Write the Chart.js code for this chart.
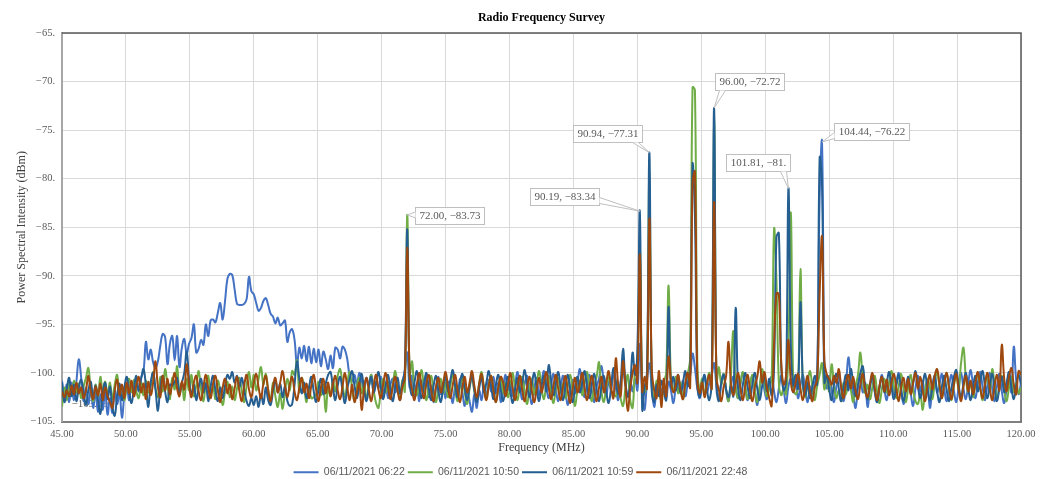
<!DOCTYPE html>
<html><head><meta charset="utf-8">
<script src="https://cdn.jsdelivr.net/npm/chart.js@4.4.0/dist/chart.umd.min.js"></script>
<style>html,body{margin:0;padding:0;background:#fff;}</style>
</head><body>
<canvas id="c" width="1051" height="479"></canvas>
<script>
const chartTitle = 'Radio Frequency Survey';
const xAxisTitle = 'Frequency (MHz)';
const yAxisTitle = 'Power Spectral Intensity (dBm)';
const seriesNames = ['06/11/2021 06:22', '06/11/2021 10:50', '06/11/2021 10:59', '06/11/2021 22:48'];
const seriesColors = ['#4472C4', '#70AD47', '#255E91', '#9E480E'];
// sampling grid of the survey (MHz)
const freqStartMHz = 45, freqStepMHz = 0.1875, freqCount = 401;
const frequencies = Array.from({length: freqCount}, (_, i) => freqStartMHz + i * freqStepMHz);
const xTickValues = [45,50,55,60,65,70,75,80,85,90,95,100,105,110,115,120];
const yTickValues = [-105,-100,-95,-90,-85,-80,-75,-70,-65];

const power0622 = [
-100.8,-102.5,-101.2,-103.0,-101.0,-102.8,-100.9,-98.6,-100.5,-102.9,-101.5,-103.2,-101.8,-103.6,-102.0,-104.0,
-102.2,-103.8,-101.9,-104.3,-102.6,-104.1,-101.8,-103.2,-102.0,-104.6,-102.4,-101.3,-102.8,-101.0,-102.1,-100.8,
-101.9,-100.5,-99.8,-96.8,-98.6,-97.6,-98.9,-99.5,-98.8,-97.2,-96.0,-96.3,-99.1,-97.0,-96.2,-98.7,
-96.2,-99.4,-97.4,-96.5,-98.0,-97.0,-96.4,-95.0,-97.9,-97.5,-96.6,-97.1,-95.0,-96.2,-94.6,-94.5,
-94.8,-93.8,-92.8,-94.5,-92.6,-90.3,-89.8,-89.9,-91.4,-92.9,-93.0,-93.0,-92.9,-92.4,-90.1,-91.6,
-91.9,-92.8,-93.6,-93.3,-92.6,-92.3,-93.0,-93.9,-94.2,-94.9,-94.3,-95.1,-94.9,-94.6,-96.8,-95.8,
-95.5,-96.6,-99.2,-97.4,-98.5,-97.2,-98.8,-97.3,-99.0,-97.5,-98.9,-97.6,-99.3,-97.8,-98.6,-99.6,
-98.2,-99.5,-97.4,-97.6,-98.5,-97.3,-97.6,-98.6,-100.4,-100.9,-100.2,-101.2,-100.0,-100.8,-101.9,-100.5,
-101.3,-100.2,-102.0,-100.9,-101.6,-100.4,-102.3,-101.0,-102.6,-101.2,-100.6,-102.0,-101.4,-102.8,-101.0,-99.8,
-97.9,-101.5,-100.3,-102.4,-101.1,-102.9,-100.8,-101.9,-100.2,-102.5,-101.3,-103.0,-101.6,-100.4,-102.2,-101.0,
-102.6,-100.9,-101.8,-103.1,-101.4,-102.7,-100.6,-102.0,-103.4,-101.7,-102.9,-104.0,-102.2,-103.6,-101.8,-102.8,
-101.3,-102.5,-100.7,-101.9,-100.4,-102.1,-101.0,-103.0,-101.5,-100.2,-101.8,-100.9,-102.4,-101.2,-99.9,-101.5,
-102.7,-101.1,-100.3,-101.9,-103.2,-101.6,-100.5,-102.3,-101.0,-99.8,-101.4,-102.6,-101.2,-100.1,-101.7,-102.9,
-101.5,-100.3,-101.9,-103.3,-101.8,-100.7,-102.1,-101.0,-99.6,-101.3,-102.5,-101.1,-100.2,-101.8,-103.0,-101.4,
-100.6,-99.3,-101.0,-102.4,-100.9,-101.7,-100.0,-101.5,-102.8,-101.0,-99.8,-101.3,-102.5,-100.8,-101.9,-100.6,
-101.8,-97.0,-101.5,-103.8,-100.9,-99.0,-101.6,-103.5,-101.7,-100.5,-102.2,-101.0,-102.8,-100.9,-101.8,-103.1,
-101.4,-100.2,-101.9,-100.8,-102.4,-101.1,-100.3,-98.0,-99.5,-101.6,-102.6,-101.2,-100.5,-102.0,-101.0,-100.2,
-99.0,-101.4,-102.5,-101.0,-100.1,-101.8,-102.9,-101.3,-100.4,-101.5,-102.6,-101.1,-100.0,-101.6,-102.8,-101.2,
-100.3,-101.9,-103.3,-101.5,-100.2,-101.8,-102.7,-101.0,-100.4,-101.9,-103.0,-101.6,-100.3,-101.7,-103.1,-101.4,
-100.6,-102.0,-101.0,-102.6,-101.3,-100.2,-101.7,-103.0,-101.4,-102.5,-101.0,-100.1,-82.0,-76.22,-99.8,-101.6,
-100.3,-101.8,-103.0,-101.4,-100.1,-101.7,-102.9,-101.2,-98.4,-100.6,-102.2,-103.6,-101.5,-100.4,-102.0,-101.0,
-103.5,-101.6,-100.3,-101.9,-103.0,-101.4,-100.2,-101.7,-102.8,-101.0,-100.5,-102.2,-101.1,-100.0,-101.6,-103.2,
-101.8,-100.6,-102.1,-103.4,-101.5,-100.3,-101.9,-100.8,-102.6,-101.1,-103.6,-101.7,-100.4,-102.0,-101.2,-100.1,
-101.7,-102.9,-101.3,-100.2,-101.8,-103.0,-101.4,-100.0,-101.6,-102.7,-101.1,-99.7,-101.3,-102.6,-101.0,-99.9,
-101.5,-102.8,-101.2,-100.0,-101.6,-102.9,-101.3,-100.1,-101.9,-103.1,-101.6,-100.4,-102.0,-97.3,-100.8,-102.2,
-101.0];

const power1050 = [
-103.5,-101.5,-102.8,-101.0,-102.2,-100.8,-102.0,-101.1,-102.6,-101.4,-100.5,-99.5,-101.8,-102.9,-101.2,-102.5,
-100.4,-101.9,-100.9,-102.3,-101.0,-102.7,-101.2,-100.2,-102.1,-101.3,-102.8,-101.5,-100.6,-102.0,-100.7,-101.9,
-102.6,-101.0,-102.3,-100.8,-102.0,-101.4,-99.9,-101.6,-102.5,-100.4,-101.9,-99.6,-101.3,-102.7,-100.5,-101.7,
-99.3,-102.0,-101.1,-102.8,-100.6,-101.8,-100.2,-102.4,-101.3,-99.8,-101.7,-102.9,-101.1,-100.3,-102.2,-101.4,
-102.7,-100.8,-101.9,-103.3,-102.0,-100.9,-102.5,-101.4,-102.8,-101.6,-100.5,-101.9,-103.0,-101.3,-99.9,-101.5,
-100.2,-101.8,-100.6,-99.4,-101.2,-100.1,-101.7,-102.9,-101.0,-102.4,-103.5,-102.1,-103.7,-101.9,-100.6,-101.8,
-99.8,-100.2,-98.7,-102.0,-100.5,-101.6,-103.0,-101.4,-102.6,-102.5,-102.2,-100.9,-102.3,-101.2,-104.0,-101.5,
-102.4,-100.8,-101.9,-100.3,-99.6,-101.2,-102.5,-101.0,-99.9,-101.6,-102.9,-101.3,-100.5,-102.1,-101.0,-102.7,
-101.4,-100.2,-101.8,-103.1,-103.6,-101.7,-100.6,-102.0,-100.9,-102.4,-101.1,-99.8,-101.5,-102.6,-100.7,-101.9,
-83.73,-100.4,-98.8,-101.8,-102.3,-101.0,-99.7,-101.6,-102.8,-101.2,-100.3,-101.9,-103.0,-101.5,-100.6,-102.1,
-101.0,-102.5,-101.3,-100.1,-101.7,-102.9,-101.4,-100.5,-102.0,-103.2,-101.6,-100.4,-101.9,-102.8,-101.1,-99.9,
-101.5,-102.7,-101.2,-100.3,-101.8,-103.0,-101.6,-100.5,-102.1,-101.0,-102.5,-101.3,-100.0,-101.7,-102.8,-101.2,
-100.4,-102.0,-103.2,-101.5,-100.6,-102.2,-101.0,-99.8,-101.5,-102.7,-101.2,-100.3,-101.9,-103.1,-101.6,-100.5,
-102.0,-101.1,-102.6,-101.3,-100.2,-101.8,-103.4,-101.7,-100.8,-102.3,-101.0,-99.9,-101.6,-102.9,-101.3,-100.4,
-98.9,-101.9,-103.0,-101.5,-100.3,-101.8,-102.2,-102.4,-101.1,-102.6,-103.4,-101.6,-100.2,-102.8,-103.6,-99.8,
-99.0,-87.0,-100.8,-102.0,-100.5,-79.5,-101.2,-102.5,-100.8,-101.9,-102.8,-101.0,-100.0,-91.0,-100.7,-101.8,
-100.4,-102.1,-101.0,-102.7,-101.3,-100.1,-98.5,-70.6,-70.9,-99.0,-101.8,-100.6,-102.2,-101.1,-100.0,-101.6,
-74.0,-101.0,-99.4,-101.2,-100.1,-101.7,-102.9,-100.2,-95.7,-101.5,-102.6,-101.0,-99.9,-101.4,-102.7,-101.3,
-100.2,-101.8,-103.0,-101.4,-99.6,-101.1,-102.4,-101.6,-100.5,-85.2,-90.5,-101.0,-102.3,-101.6,-102.2,-97.5,
-83.5,-101.0,-102.2,-101.4,-89.3,-101.2,-102.5,-101.0,-99.8,-101.5,-102.8,-101.3,-100.2,-99.0,-101.7,-100.5,
-101.9,-99.1,-101.3,-102.6,-101.8,-102.9,-101.0,-102.2,-100.8,-101.7,-103.0,-101.4,-100.2,-97.9,-100.6,-102.1,
-101.2,-102.7,-101.5,-100.3,-101.9,-103.1,-101.6,-100.6,-102.0,-101.0,-99.8,-101.4,-102.6,-101.3,-100.1,-101.7,
-103.0,-101.4,-100.2,-101.8,-102.9,-103.2,-102.1,-103.8,-101.9,-100.6,-101.5,-102.7,-101.1,-99.9,-101.4,-102.6,
-101.0,-100.0,-101.6,-102.8,-101.3,-100.2,-101.7,-99.0,-97.4,-100.5,-102.0,-101.0,-102.5,-101.2,-100.1,-101.6,
-102.8,-101.3,-100.2,-101.9,-99.6,-101.2,-102.6,-101.4,-100.3,-101.8,-102.9,-101.5,-100.4,-102.0,-101.0,-102.1,
-101.5];

const power1059 = [
-101.0,-103.0,-101.6,-100.5,-102.4,-101.2,-102.9,-101.5,-100.7,-102.0,-103.3,-101.8,-100.9,-102.6,-101.3,-102.8,
-104.2,-102.0,-101.0,-102.7,-101.4,-103.5,-104.4,-102.3,-101.1,-102.8,-101.5,-100.4,-102.0,-103.1,-101.6,-100.3,
-101.8,-100.6,-99.6,-101.3,-103.5,-101.0,-100.0,-101.7,-103.9,-101.5,-100.3,-101.9,-103.0,-101.2,-101.3,-100.9,
-100.5,-102.1,-101.0,-100.0,-97.8,-100.6,-102.3,-101.2,-102.8,-101.5,-100.6,-102.0,-101.1,-102.9,-101.4,-100.3,
-101.8,-102.9,-101.5,-102.6,-101.3,-100.2,-100.6,-99.9,-101.0,-100.3,-101.4,-100.5,-101.8,-102.9,-103.4,-102.6,
-103.3,-102.4,-103.5,-102.2,-103.2,-101.5,-102.8,-103.3,-101.9,-100.7,-102.0,-101.1,-102.5,-101.4,-102.9,-103.4,
-103.2,-101.2,-98.8,-100.6,-102.1,-101.0,-102.6,-101.5,-100.4,-101.9,-103.0,-101.7,-100.6,-102.2,-101.1,-100.2,
-99.9,-101.5,-102.8,-101.3,-100.4,-101.8,-103.1,-101.6,-100.6,-99.8,-101.3,-102.6,-101.2,-100.1,-101.7,-102.9,
-101.4,-100.4,-102.0,-101.0,-99.9,-101.5,-102.7,-101.3,-100.2,-101.8,-102.9,-101.4,-100.5,-102.1,-101.0,-99.6,
-85.2,-100.9,-102.3,-101.0,-99.8,-101.4,-102.6,-101.1,-100.0,-101.6,-102.8,-101.3,-100.3,-101.9,-103.0,-101.5,
-100.4,-101.9,-100.7,-99.7,-101.3,-102.5,-101.0,-100.1,-101.6,-102.8,-101.4,-100.3,-101.8,-103.0,-101.6,-100.5,
-102.0,-101.0,-99.8,-101.4,-102.7,-101.2,-100.2,-101.7,-102.9,-101.5,-100.4,-101.9,-103.1,-101.6,-100.5,-102.0,
-101.0,-99.7,-101.3,-102.5,-101.1,-100.0,-101.6,-102.9,-101.4,-100.3,-101.9,-99.2,-100.8,-102.3,-101.0,-99.9,
-101.5,-102.8,-101.3,-100.2,-101.8,-103.0,-101.5,-100.4,-102.0,-101.0,-99.8,-101.4,-102.6,-101.2,-100.1,-101.7,
-102.9,-101.4,-100.3,-101.9,-103.1,-101.6,-99.5,-100.8,-102.2,-101.0,-97.5,-100.9,-102.4,-101.2,-97.9,-100.2,
-97.5,-83.34,-103.8,-101.5,-99.9,-77.31,-101.9,-103.0,-101.2,-102.4,-100.8,-101.9,-102.8,-93.2,-101.5,-100.4,
-101.8,-100.6,-102.1,-101.0,-99.8,-101.4,-100.0,-78.6,-84.0,-101.2,-102.5,-101.1,-100.2,-101.8,-102.8,-100.6,
-72.72,-101.6,-102.9,-101.0,-100.2,-101.7,-102.5,-101.3,-102.4,-93.3,-101.6,-102.8,-101.2,-100.0,-101.5,-102.6,
-101.1,-100.0,-101.6,-102.8,-101.4,-100.3,-101.9,-100.6,-102.3,-99.5,-86.0,-85.6,-99.4,-101.8,-100.9,-81.0,
-97.2,-101.3,-100.2,-101.6,-92.7,-100.9,-102.3,-101.0,-102.6,-101.4,-100.3,-101.2,-77.9,-80.5,-101.0,-100.2,
-101.7,-102.8,-101.1,-100.1,-101.6,-102.9,-101.4,-100.2,-101.8,-99.6,-101.0,-102.4,-101.2,-100.0,-99.3,-101.5,
-102.7,-101.3,-100.3,-101.9,-103.0,-101.5,-100.4,-102.0,-101.0,-99.9,-101.5,-102.7,-101.3,-100.2,-101.8,-102.9,
-101.6,-100.4,-102.0,-101.1,-99.8,-101.4,-102.6,-101.2,-100.1,-101.7,-102.8,-101.5,-100.3,-101.9,-103.0,-101.4,
-100.3,-101.8,-102.9,-101.5,-100.4,-99.7,-101.3,-102.5,-101.1,-100.0,-101.6,-102.8,-101.4,-100.3,-101.9,-100.8,
-99.8,-101.4,-102.6,-101.2,-100.1,-101.7,-102.9,-101.5,-100.4,-102.0,-101.0,-99.9,-101.5,-102.7,-101.3,-100.2,
-101.2];

const power2248 = [
-101.9,-102.5,-101.8,-102.4,-101.3,-102.2,-101.0,-102.1,-101.5,-102.6,-101.8,-100.3,-101.9,-102.7,-101.4,-102.3,
-101.1,-102.8,-101.5,-102.4,-103.0,-103.6,-101.8,-100.7,-102.3,-101.2,-102.6,-101.0,-102.1,-100.8,-102.4,-101.3,
-100.4,-102.0,-101.1,-102.7,-100.9,-102.3,-101.0,-98.8,-101.4,-102.5,-100.3,-101.8,-100.6,-102.2,-101.1,-100.0,
-101.6,-102.4,-100.9,-101.7,-99.1,-101.2,-102.5,-101.0,-100.3,-101.9,-102.8,-101.4,-100.2,-101.6,-102.6,-101.1,
-100.3,-101.8,-103.0,-101.5,-100.6,-102.1,-101.2,-102.7,-101.6,-100.4,-101.9,-102.9,-101.3,-100.2,-101.7,-102.5,
-101.0,-100.1,-101.5,-102.6,-101.1,-100.3,-101.8,-102.9,-101.4,-100.5,-102.0,-101.0,-99.8,-101.3,-102.5,-101.2,
-100.4,-101.9,-102.8,-101.5,-100.5,-102.0,-101.1,-102.6,-101.3,-100.2,-101.7,-102.9,-101.5,-100.6,-102.1,-101.0,
-102.4,-101.2,-100.3,-101.8,-102.7,-101.4,-100.0,-101.5,-102.8,-101.2,-103.0,-102.0,-101.0,-103.8,-101.6,-100.5,
-101.8,-102.9,-101.3,-100.2,-101.7,-102.6,-101.1,-100.0,-101.5,-102.7,-101.3,-100.4,-101.9,-102.8,-101.4,-100.6,
-87.1,-100.2,-101.7,-102.8,-101.2,-100.0,-101.5,-102.6,-101.1,-100.2,-101.8,-102.9,-101.4,-100.5,-102.0,-101.0,
-99.9,-101.4,-102.6,-101.2,-100.2,-101.8,-103.0,-101.5,-100.4,-102.0,-101.0,-99.8,-101.3,-102.5,-101.1,-100.1,
-101.6,-102.8,-101.3,-100.3,-101.9,-103.0,-101.5,-100.4,-101.0,-102.4,-101.2,-100.0,-101.6,-102.8,-101.4,-100.3,
-101.8,-102.9,-101.4,-100.4,-101.9,-103.0,-101.6,-100.5,-102.0,-101.0,-99.9,-101.5,-102.7,-101.3,-100.2,-101.7,
-102.8,-101.4,-100.3,-101.9,-103.1,-101.6,-100.5,-102.0,-101.1,-100.0,-101.6,-102.8,-101.4,-100.3,-101.8,-102.9,
-101.5,-100.4,-102.0,-101.0,-99.8,-101.4,-102.6,-98.5,-101.2,-102.4,-98.8,-101.3,-103.9,-101.6,-100.0,-99.2,
-101.0,-87.8,-101.9,-100.4,-101.6,-84.1,-99.6,-101.8,-102.6,-99.8,-103.5,-100.6,-102.4,-98.3,-100.8,-102.0,
-101.3,-100.2,-101.8,-102.7,-101.0,-100.0,-101.5,-80.5,-79.3,-100.6,-102.1,-101.0,-102.5,-101.2,-100.2,-101.6,
-82.4,-100.5,-101.8,-102.9,-101.4,-100.3,-96.8,-101.0,-102.3,-101.1,-100.0,-101.6,-102.8,-101.3,-100.2,-101.8,
-102.9,-101.4,-100.4,-98.8,-101.0,-99.9,-101.5,-102.6,-103.4,-97.0,-91.8,-91.9,-99.0,-101.2,-100.3,-96.6,
-100.9,-102.0,-101.0,-100.1,-101.6,-102.8,-101.4,-100.3,-101.9,-102.9,-101.5,-100.6,-92.0,-86.0,-98.8,-100.2,
-100.6,-101.2,-100.3,-101.0,-99.6,-101.4,-102.6,-101.0,-100.2,-101.6,-100.4,-101.8,-102.7,-101.2,-100.1,-101.7,
-102.5,-101.1,-100.0,-101.5,-102.8,-101.3,-100.4,-101.9,-100.7,-102.3,-101.0,-100.1,-101.6,-102.9,-101.4,-100.5,
-101.9,-100.6,-102.2,-101.0,-100.0,-101.6,-100.4,-101.8,-102.9,-101.3,-100.2,-101.7,-100.3,-99.6,-101.2,-102.6,
-101.1,-100.0,-101.5,-102.7,-101.2,-100.1,-101.7,-102.9,-101.4,-100.3,-101.9,-100.8,-102.2,-101.0,-99.9,-101.5,
-102.6,-101.1,-100.0,-101.6,-102.8,-101.3,-100.2,-101.8,-97.1,-100.6,-101.9,-100.4,-99.5,-101.2,-102.2,-99.8,
-100.2];

// data labels shown on the chart (value points)
const calloutPoints = [
  {x: 72.00, y: -83.73, text: '72.00, \u221283.73'},
  {x: 90.19, y: -83.34, text: '90.19, \u221283.34'},
  {x: 90.94, y: -77.31, text: '90.94, \u221277.31'},
  {x: 96.00, y: -72.72, text: '96.00, \u221272.72'},
  {x: 101.81, y: -81.00, text: '101.81, \u221281.'},
  {x: 104.44, y: -76.22, text: '104.44, \u221276.22'}
];
const plainLabel = {x: 45.75, y: -103.19, text: '\u2212103.19'};
// label box placement (pixel offsets of box centre from its point)
const calloutOffsets = [
  {dx: 42, dy: 1}, {dx: -75, dy: -15}, {dx: -42, dy: -19},
  {dx: 35, dy: -26}, {dx: -30, dy: -26}, {dx: 49, dy: -10}
];

const seriesValues = [power0622, power1050, power1059, power2248];
const serif = '"Liberation Serif", "Times New Roman", serif';

const decorPlugin = {
  id: 'decor',
  beforeDatasetsDraw(chart) {
    const {ctx, chartArea: a, scales: {x, y}} = chart;
    ctx.save();
    ctx.strokeStyle = '#595959';
    ctx.lineWidth = 1.5;
    ctx.beginPath();
    ctx.moveTo(a.left, a.top); ctx.lineTo(a.right, a.top); ctx.lineTo(a.right, a.bottom);
    ctx.stroke();
    ctx.font = '11px ' + serif;
    ctx.fillStyle = '#595959';
    ctx.textAlign = 'left';
    ctx.textBaseline = 'middle';
    ctx.fillText(plainLabel.text, x.getPixelForValue(plainLabel.x), y.getPixelForValue(plainLabel.y));
    ctx.restore();
  },
  afterDatasetsDraw(chart) {
    const {ctx, scales: {x, y}} = chart;
    ctx.save();
    ctx.font = '11px ' + serif;
    ctx.textAlign = 'center';
    ctx.textBaseline = 'middle';
    calloutPoints.forEach((c, i) => {
      const px = x.getPixelForValue(c.x), py = y.getPixelForValue(c.y);
      const o = calloutOffsets[i];
      const w = Math.round(ctx.measureText(c.text).width + 8), h = 17;
      const l = Math.round(px + o.dx - w / 2) + 0.5, t = Math.round(py + o.dy - h / 2) + 0.5;
      const ex = Math.min(Math.max(px, l), l + w), ey = Math.min(Math.max(py, t), t + h);
      let b1, b2;
      if (Math.abs(px - ex) >= Math.abs(py - ey)) {
        const yc = Math.min(Math.max(ey, t + 5), t + h - 5);
        b1 = [ex, yc - 3]; b2 = [ex, yc + 3];
      } else {
        const xc = Math.min(Math.max(ex, l + 7), l + w - 7);
        b1 = [xc - 3, ey]; b2 = [xc + 3, ey];
      }
      ctx.fillStyle = '#fff';
      ctx.strokeStyle = '#BFBFBF';
      ctx.lineWidth = 1;
      ctx.fillRect(l, t, w, h);
      ctx.strokeRect(l, t, w, h);
      ctx.beginPath();
      ctx.moveTo(b1[0], b1[1]); ctx.lineTo(px, py); ctx.lineTo(b2[0], b2[1]); ctx.closePath();
      ctx.fill();
      ctx.beginPath();
      ctx.moveTo(b1[0], b1[1]); ctx.lineTo(px, py); ctx.lineTo(b2[0], b2[1]);
      ctx.stroke();
      ctx.fillStyle = '#595959';
      ctx.fillText(c.text, l + w / 2, t + h / 2 + 0.5);
    });
    ctx.restore();
  },
  afterDraw(chart) {
    const {ctx, chartArea: a} = chart;
    ctx.save();
    ctx.font = 'bold 12px ' + serif;
    ctx.fillStyle = '#000';
    ctx.textAlign = 'center';
    ctx.textBaseline = 'middle';
    ctx.fillText(chartTitle, (a.left + a.right) / 2, 18);
    ctx.restore();
  }
};

new Chart(document.getElementById('c'), {
  type: 'line',
  data: {
    datasets: seriesNames.map((name, s) => ({
      label: name,
      data: frequencies.map((f, i) => ({x: f, y: seriesValues[s][i]})),
      borderColor: seriesColors[s],
      backgroundColor: seriesColors[s],
      borderWidth: 2,
      pointRadius: 0,
      tension: 0.4,
      order: 4 - s
    }))
  },
  options: {
    responsive: false,
    animation: false,
    events: [],
    layout: {padding: {top: 33, right: 30, left: 20, bottom: -8.5}},
    plugins: {
      title: {display: false},
      tooltip: {enabled: false},
      legend: {
        position: 'bottom',
        labels: {
          usePointStyle: true, pointStyle: 'line', pointStyleWidth: 25,
          padding: 3, color: '#595959',
          font: {family: '"Liberation Sans", Arial, sans-serif', size: 10.5},
          sort: (a, b) => a.datasetIndex - b.datasetIndex
        }
      }
    },
    scales: {
      x: {
        type: 'linear', min: 45, max: 120,
        afterBuildTicks: (sc) => { sc.ticks = xTickValues.map(v => ({value: v})); },
        afterFit: (sc) => { sc.height = 42.5; sc.paddingLeft = 0; sc.paddingRight = 0; },
        grid: {color: '#D9D9D9', drawTicks: false},
        border: {color: '#808080', width: 2},
        ticks: {autoSkip: false, maxRotation: 0, padding: 6, color: '#595959',
                font: {family: serif, size: 10.5}, callback: v => v.toFixed(2)},
        title: {display: true, text: xAxisTitle, color: '#404040', font: {family: serif, size: 12},
                padding: {top: 4, bottom: 9}}
      },
      y: {
        min: -105, max: -65,
        afterBuildTicks: (sc) => { sc.ticks = yTickValues.map(v => ({value: v})); },
        afterFit: (sc) => { sc.width = 42; sc.paddingTop = 0; sc.paddingBottom = 0; },
        grid: {color: '#D9D9D9', drawTicks: false},
        border: {color: '#A6A6A6', width: 2},
        ticks: {padding: 7, color: '#595959', font: {family: serif, size: 10.5},
                callback: v => '\u2212' + Math.abs(v) + '.'},
        title: {display: true, text: yAxisTitle, color: '#404040', font: {family: serif, size: 12},
                padding: {top: -5, bottom: 0}}
      }
    }
  },
  plugins: [decorPlugin]
});
</script>
</body></html>
